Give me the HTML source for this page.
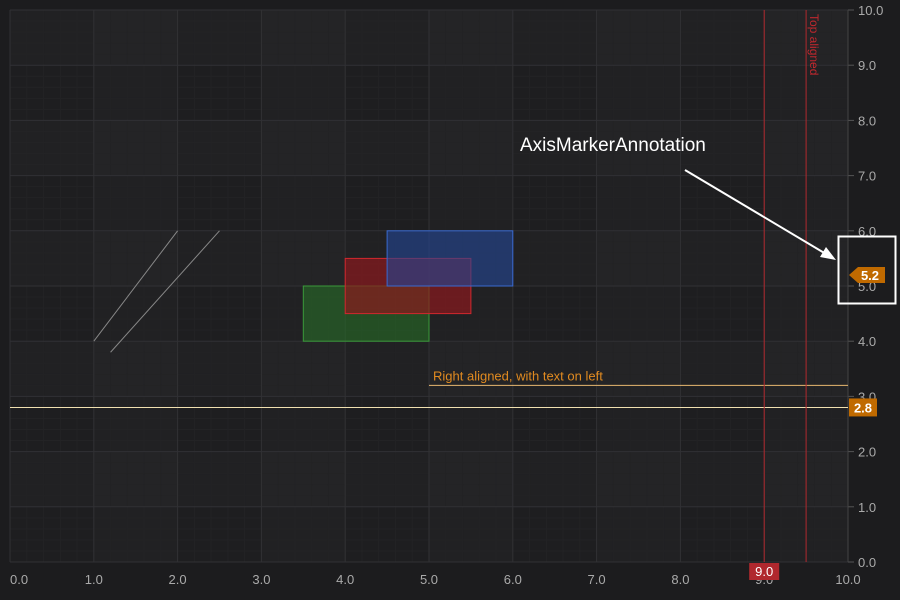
<!DOCTYPE html>
<html><head><meta charset="utf-8"><style>
body{margin:0;background:#1c1c1e;}
svg{display:block;font-family:"Liberation Sans",sans-serif;}
</style></head><body>
<svg id="c" width="900" height="600"></svg>
<script>
const xTicks=[0,1,2,3,4,5,6,7,8,9,10];
const yTicks=[0,1,2,3,4,5,6,7,8,9,10];
const lineStarts=[[1,4],[1.2,3.8]];
const lineEnds=[[2,6],[2.5,6]];
const boxNames=['green-box','red-box','blue-box'];
const boxX1=[3.5,4,4.5];
const boxX2=[5,5.5,6];
const boxY1=[4,4.5,5];
const boxY2=[5,5.5,6];
const boxFill=['rgba(40,110,40,0.6)','rgba(140,25,30,0.7)','rgba(35,70,150,0.6)'];
const boxStroke=['#3a9a3a','#d0282e','#3a6ad0'];
const hLineRightY=3.2, hLineRightX=5;
const hLineFullY=2.8;
const vLine1X=9, vLine2X=9.5;
const markerY=5.2;

const X=v=>10+v*83.8, Y=v=>562-v*55.2;
const s=document.getElementById('c');
const NS='http://www.w3.org/2000/svg';
function mk(t,a,p){const e=document.createElementNS(NS,t);for(const k in a)e.setAttribute(k,a[k]);(p||s).appendChild(e);return e;}
let e;
e=mk('rect',{x:10,y:10,width:838,height:552,fill:'#1e1e20'});


for(let i=1;i<10;i+=2){e=mk('rect',{x:X(i),y:10,width:83.8,height:552,fill:'rgba(255,255,255,0.015)'});

}
for(let i=1;i<10;i+=2){e=mk('rect',{x:10,y:Y(i+1),width:838,height:55.2,fill:'rgba(255,255,255,0.015)'});

}
for(let v=0;v<=10.001;v+=0.2){mk('line',{x1:X(v),x2:X(v),y1:10,y2:562,stroke:'#232325','stroke-width':1});
mk('line',{x1:10,x2:848,y1:Y(v),y2:Y(v),stroke:'#232325','stroke-width':1});}
xTicks.forEach(v=>{mk('line',{x1:X(v),x2:X(v),y1:10,y2:562,stroke:'#313134'});
e=mk('text',{x:X(v),y:584,fill:'#aaa','font-size':13,'text-anchor':v==0?'start':'middle'});e.textContent=v.toFixed(1);

});
yTicks.forEach(v=>{mk('line',{x1:10,x2:848,y1:Y(v),y2:Y(v),stroke:'#313134'});
mk('line',{x1:848,x2:854,y1:Y(v),y2:Y(v),stroke:'#555'});
e=mk('text',{x:858,y:Y(v)+5,fill:'#aaa','font-size':13});e.textContent=v.toFixed(1);

});
mk('line',{x1:848,x2:848,y1:10,y2:562,stroke:'#444'});
lineStarts.forEach((p,i)=>{e=mk('line',{x1:X(p[0]),y1:Y(p[1]),x2:X(lineEnds[i][0]),y2:Y(lineEnds[i][1]),stroke:'#888','stroke-width':1});

});
boxNames.forEach((n,i)=>{e=mk('rect',{x:X(boxX1[i]),y:Y(boxY2[i]),width:X(boxX2[i])-X(boxX1[i]),height:Y(boxY1[i])-Y(boxY2[i]),fill:boxFill[i],stroke:boxStroke[i]});

});
e=mk('line',{x1:X(hLineRightX),x2:848,y1:Y(hLineRightY),y2:Y(hLineRightY),stroke:'#e8b870','stroke-width':1});


e=mk('text',{x:X(hLineRightX)+4,y:Y(hLineRightY)-5,fill:'#e08a20','font-size':13});e.textContent='Right aligned, with text on left';


e=mk('line',{x1:10,x2:848,y1:Y(hLineFullY),y2:Y(hLineFullY),stroke:'#f0e0b0','stroke-width':1});


e=mk('rect',{x:849,y:Y(hLineFullY)-9,width:28,height:18,fill:'#c06a00'});


e=mk('text',{x:863,y:Y(hLineFullY)+5,fill:'#fff','font-size':13,'font-weight':'bold','text-anchor':'middle'});e.textContent='2.8';
e=mk('line',{x1:X(vLine1X),x2:X(vLine1X),y1:10,y2:562,stroke:'#b0282e'});


e=mk('rect',{x:X(vLine1X)-15,y:563,width:30,height:17,fill:'#b0282e'});


e=mk('text',{x:X(vLine1X),y:576,fill:'#fff','font-size':13,'text-anchor':'middle'});e.textContent='9.0';
e=mk('line',{x1:X(vLine2X),x2:X(vLine2X),y1:10,y2:562,stroke:'#b0282e'});


e=mk('text',{x:0,y:0,fill:'#c0282e','font-size':12,transform:`translate(${X(vLine2X)+4},14) rotate(90)`});e.textContent='Top aligned';


const my=Y(markerY);
e=mk('polygon',{points:`849,${my} 858,${my-8} 885,${my-8} 885,${my+8} 858,${my+8}`,fill:'#c06a00'});


e=mk('text',{x:870,y:my+5,fill:'#fff','font-size':13,'font-weight':'bold','text-anchor':'middle'});e.textContent='5.2';
e=mk('rect',{x:838.5,y:236.5,width:57,height:67,fill:'none',stroke:'#fff','stroke-width':2});


e=mk('text',{x:520,y:151,fill:'#fff','font-size':19});e.textContent='AxisMarkerAnnotation';


e=mk('line',{x1:685,y1:170,x2:826,y2:254,stroke:'#fff','stroke-width':2});


mk('polygon',{points:'836,260 820,257 826,247',fill:'#fff'});
</script>
</body></html>
